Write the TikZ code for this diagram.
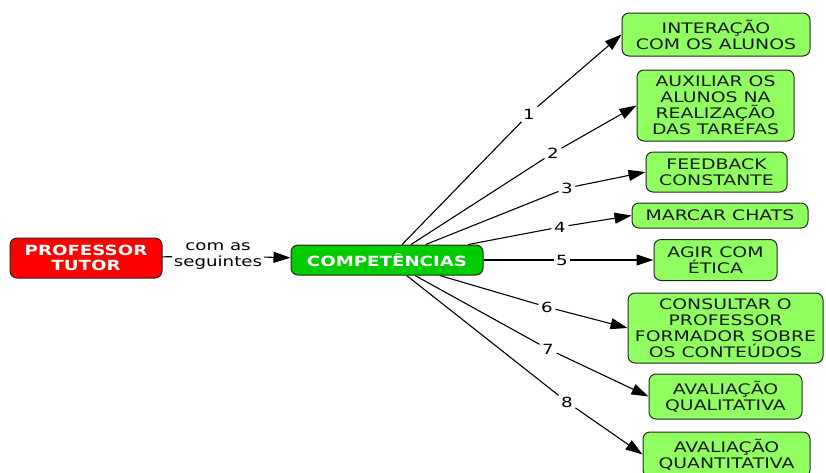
\documentclass[tikz,border=0pt]{standalone}
\usepackage{fontspec}
\setmainfont[FakeStretch=1.3]{DejaVu Sans}
\usetikzlibrary{arrows.meta}
\definecolor{lgreen}{RGB}{144,255,96}
\definecolor{dgreen}{RGB}{0,204,0}
\definecolor{pred}{RGB}{255,0,0}
\tikzset{
  box/.style={draw=black!85, line width=1pt, rounded corners=7pt, fill=lgreen,
    align=center, inner sep=0pt, text=black!90,
    font=\fontsize{14.5}{16}\selectfont},
  mainbox/.style={box, text=white, font=\bfseries\fontsize{14}{15.5}\selectfont},
  num/.style={inner sep=2.5pt, font=\fontsize{14}{16}\selectfont},
  conn/.style={line width=1.1pt, draw=black},
  arr/.style={conn, -{Triangle[length=17pt,width=11pt]}},
}
\begin{document}
\begin{tikzpicture}[x=1pt,y=-1pt]
\useasboundingbox (0,0) rectangle (826,472);
% main nodes
\node[mainbox, fill=pred, minimum width=152pt, minimum height=40pt] (prof) at (86,258) {PROFESSOR\\TUTOR};
\node[mainbox, fill=dgreen, minimum width=192pt, minimum height=30pt] (comp) at (387,260) {COMPETÊNCIAS};
\node[align=center, inner sep=1.5pt, font=\fontsize{14}{16}\selectfont] (link) at (218,256) {com as\\seguintes};
% targets
\node[box, minimum width=188pt, minimum height=43pt] (b1) at (716,34.5) {INTERAÇÃO\\COM OS ALUNOS};
\node[box, minimum width=157pt, minimum height=71pt] (b2) at (715.5,105.5) {AUXILIAR OS\\ALUNOS NA\\REALIZAÇÃO\\DAS TAREFAS};
\node[box, minimum width=141pt, minimum height=40pt] (b3) at (716.5,172) {FEEDBACK\\CONSTANTE};
\node[box, minimum width=176pt, minimum height=25pt] (b4) at (720,215.5) {MARCAR CHATS};
\node[box, minimum width=123pt, minimum height=41pt] (b5) at (715.5,260) {AGIR COM\\ÉTICA};
\node[box, minimum width=195pt, minimum height=70pt] (b6) at (725.5,328) {CONSULTAR O\\PROFESSOR\\FORMADOR SOBRE\\OS CONTEÚDOS};
\node[box, minimum width=153pt, minimum height=45pt] (b7) at (725.5,396.5) {AVALIAÇÃO\\QUALITATIVA};
\node[box, minimum width=167pt, minimum height=45pt] (b8) at (726.5,454.5) {AVALIAÇÃO\\QUANTITATIVA};
% number labels
\node[num] (l1) at (529,114) {1};
\node[num] (l2) at (553,153) {2};
\node[num] (l3) at (567,188) {3};
\node[num] (l4) at (560,227) {4};
\node[num] (l5) at (562,260) {5};
\node[num] (l6) at (547,307) {6};
\node[num] (l7) at (548,349) {7};
\node[num] (l8) at (567,402) {8};
% connectors
\draw[conn] (prof) -- (link);
\draw[arr] (link) -- (comp);
\foreach \i in {1,...,8}{
  \draw[conn] (comp) -- (l\i);
  \draw[arr] (l\i) -- (b\i.west);
}
\end{tikzpicture}
\end{document}
